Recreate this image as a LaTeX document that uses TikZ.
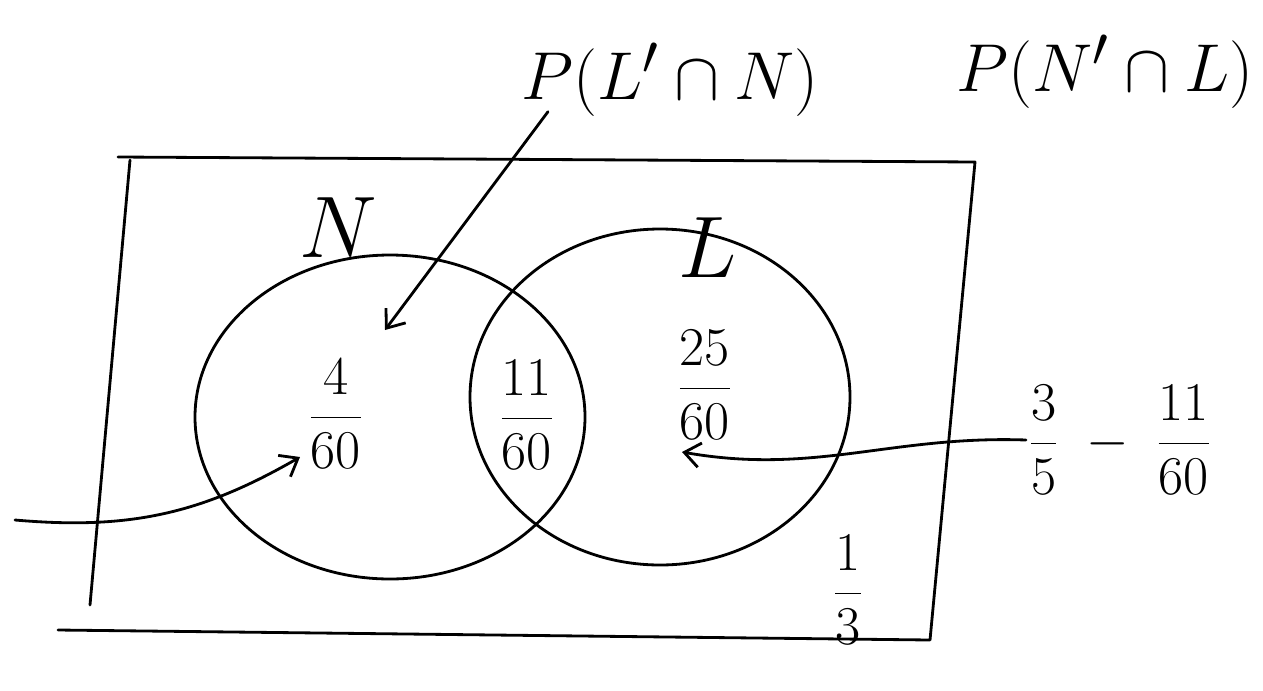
\documentclass[tikz,border=0pt]{standalone}
\usetikzlibrary{shapes.geometric,arrows.meta}
\begin{document}
\begin{tikzpicture}[x=0.02cm,y=-0.02cm,
  pen/.style={line width=1.6pt,black,line cap=round,line join=round},
  venn/.style={pen,draw,ellipse,inner sep=0pt},
  arr/.style={pen,-{Straight Barb[length=9pt,width=14pt,line width=1.6pt]}},
  big/.style={font=\Huge,scale=1.55,inner sep=1pt},
  setlab/.style={font=\Huge,scale=2.0,inner sep=1pt},
  frac/.style={font=\Huge,scale=1.25,inner sep=1pt}]
\useasboundingbox (0,0) rectangle (1263,690);
% universal set
\draw[pen] (118,157) -- (975,162) -- (930,640) -- (58,630);
\draw[pen] (130,160) -- (90,605);
% circles
\node[venn,minimum width=390*0.02cm,minimum height=324*0.02cm] (N) at (390,417) {};
\node[venn,minimum width=380*0.02cm,minimum height=336*0.02cm] (L) at (660,397) {};
% set labels
\node[setlab] (lN) at (338,228) {$N$};
\node[setlab] (lL) at (708,248) {$L$};
% top labels
\node[big] (PLN) at (670,80) {$P(L'\cap N)$};
\node[big] (PNL) at (1105,72) {$P(N'\cap L)$};
% region values
\node[frac] (f4) at (336,414) {$\displaystyle\frac{4}{60}$};
\node[frac] (f11) at (527,415) {$\displaystyle\frac{11}{60}$};
\node[frac] (f25) at (705,385) {$\displaystyle\frac{25}{60}$};
\node[frac] (f13) at (848,590) {$\displaystyle\frac{1}{3}$};
\node[frac] (diff) at (1120,440) {$\displaystyle\frac{3}{5}\;-\;\frac{11}{60}$};
% arrows
\coordinate (lstart) at (15,520);
\draw[arr] ([shift={(30,-8)}]PLN.south west) -- (385,330);
\draw[arr] (lstart) to[out=-5,in=-150] (300,457);
\draw[arr] (diff.west) to[out=178,in=-10] (682,452);
\end{tikzpicture}
\end{document}
